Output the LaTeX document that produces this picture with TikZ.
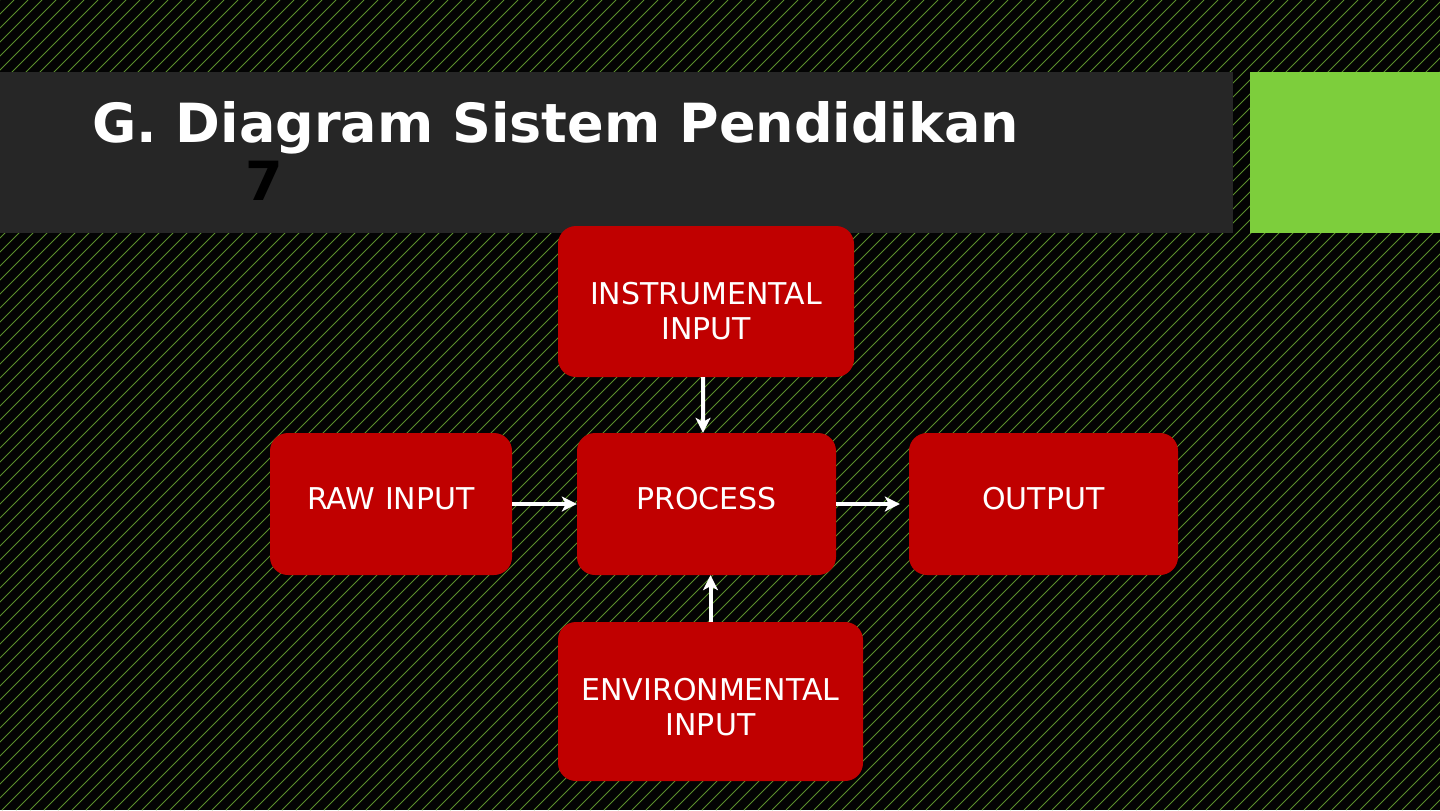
\documentclass[tikz,border=0pt]{standalone}
\usepackage{fontspec}
\setmainfont{DejaVu Sans}
\usetikzlibrary{arrows.meta}

\definecolor{slidebg}{HTML}{030303}
\definecolor{hatchgreen}{HTML}{5A8F2C}
\definecolor{titlebar}{HTML}{262626}
\definecolor{accentgreen}{HTML}{7DCE3C}
\definecolor{boxred}{HTML}{C00000}

% two centred lines, drawn a little lower than the box would put them
\newcommand{\droplines}[2]{\raisebox{-#1}[\height][\depth]{\begin{tabular}{@{}c@{}}#2\end{tabular}}}

\begin{document}
\begin{tikzpicture}[x=1bp, y=-1bp,
    stage/.style={fill=boxred, rounded corners=18bp, text=white, align=center,
                  font=\fontsize{30bp}{35bp}\selectfont, inner sep=0pt},
    flow/.style ={draw=white, line width=4bp, -{Stealth[length=15bp, width=15bp, inset=4bp]}},
    hatch/.style={draw=hatchgreen, line width=0.9bp},
    headtext/.style={font=\bfseries\fontsize{54bp}{60bp}\selectfont, inner sep=0pt},
  ]

  % ---------------- slide background with thin diagonal stripes ------------
  \useasboundingbox (0,0) rectangle (1440,810);
  \fill[slidebg] (0,0) rectangle (1440,810);
  \begin{scope}
    \clip (0,0) rectangle (1440,810);
    \foreach \k in {-810,-796,...,1440}
      \draw[hatch] (\k,810) -- ++(810,-810);
  \end{scope}

  % ---------------- title bar and green block ------------------------------
  \fill[titlebar]    (0,72)    rectangle (1233,233);
  \fill[accentgreen] (1250,72) rectangle (1440,233);
  \node[headtext, text=white, anchor=base west] (head) at (92,142) {G. Diagram Sistem Pendidikan};
  \node[headtext, text=black, anchor=base west] (num)  at (245,200) {7};

  % ---------------- the five boxes -----------------------------------------
  \node[stage, minimum width=296bp, minimum height=151bp] (instr) at (706,301.5)   {\droplines{13bp}{INSTRUMENTAL\\INPUT}};
  \node[stage, text depth=11bp, minimum width=242bp, minimum height=142bp] (raw)  at (391,504)    {RAW INPUT};
  \node[stage, text depth=11bp, minimum width=259bp, minimum height=142bp] (proc) at (706.5,504)  {PROCESS};
  \node[stage, text depth=11bp, minimum width=269bp, minimum height=142bp] (out)  at (1043.5,504) {OUTPUT};
  \node[stage, minimum width=305bp, minimum height=159bp] (env)   at (710.5,701.5) {\droplines{9bp}{ENVIRONMENTAL\\INPUT}};

  % ---------------- arrows -------------------------------------------------
  \draw[flow] ([xshift=-3bp]instr.south) -- ([xshift=-3.5bp]proc.north);
  \draw[flow] (raw.east) -- (proc.west);
  \draw[flow, shorten >=9bp] (proc.east) -- (out.west);
  \draw[flow] (env.north) -- (env.north |- proc.south);

\end{tikzpicture}
\end{document}
